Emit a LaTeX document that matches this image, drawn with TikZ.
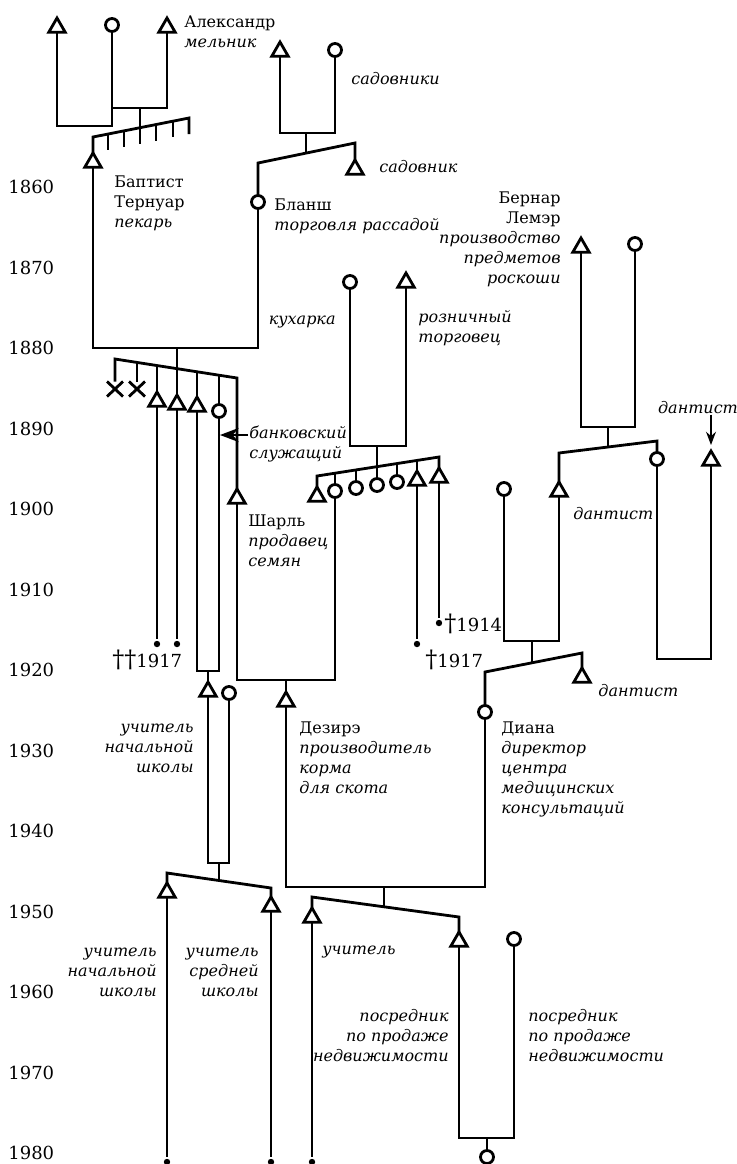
\documentclass[tikz,border=0pt]{standalone}
\usepackage{fontspec}
\setmainfont{DejaVu Serif}
\usetikzlibrary{
    arrows.meta,
    shapes.geometric,
    shapes.misc
}

\begin{document}
\begin{tikzpicture}[x=0.5pt, y=-0.5pt, line width=1.4pt,
    man/.style={draw, fill=white, regular polygon, regular polygon sides=3, minimum size=9.5pt, inner sep=0pt, outer sep=0pt, anchor=north},
    woman/.style={draw, fill=white, circle, minimum size=6.5pt, inner sep=0pt, outer sep=0pt},
    gone/.style={draw, cross out, minimum width=8pt, minimum height=7.5pt, inner sep=0pt, outer sep=0pt},
    dead/.style={circle, fill, minimum size=3.2pt, inner sep=0pt},
    lbl/.style={inner sep=0pt, font=\fontsize{8}{10}\selectfont, align=left, anchor=base west},
    lblr/.style={lbl, align=right, anchor=base east},
    job/.style={lbl, font=\fontsize{8}{10}\selectfont\itshape},
    jobr/.style={lblr, font=\fontsize{8}{10}\selectfont\itshape},
    yr/.style={inner sep=0pt, font=\fontsize{9}{10}\selectfont, anchor=west}]
    \useasboundingbox (0,0) rectangle (736,1164);
    % years
    \foreach \yy in {1860,1870,...,1980}
        \node[yr] (y\yy) at (7,{187+(\yy-1860)*8.05}) {\yy};

    % millers
    \node[man] (alf) at (57,18) {};
    \node[woman] (alm) at (112,25) {};
    \node[man] (ale) at (167,18) {};
    \node[lbl] (alet) at (183,47) {Александр\\\textit{мельник}};
    \coordinate (u1) at (112,126);
    \coordinate (u2) at (112,108);
    \coordinate (d1) at (140,108);
    \draw (alf) |- (u1) -- (alm);
    \draw (ale) |- (u2);
    \node[man] (bap) at (93,153) {};
    \node[lbl] (bapt) at (113,227) {Баптист\\Тернуар\\\textit{пекарь}};
    \coordinate (s1a) at (93,137);
    \coordinate (s1b) at (189,118);
    \draw (bap) -- (s1a) -- (s1b) -- ++(0,16);
    \draw (d1) -- ++(0,36);
    \foreach \x/\y in {108/134, 124/130.9, 156/124.5, 173/121.2}
        \draw (\x,\y) -- ++(0,16);

    % gardeners
    \node[man] (gaf) at (280,42) {};
    \node[woman] (gam) at (335,50) {};
    \node[job] (gamt) at (350,84) {садовники};
    \coordinate (u3) at (335,133);
    \coordinate (d3) at (306,133);
    \coordinate (d3b) at (306,153);
    \draw (gaf) |- (u3) -- (gam);
    \draw (d3) -- (d3b);
    \node[man] (gas) at (355,160) {};
    \node[job] (gast) at (378,172) {садовник};
    \node[woman] (bla) at (258,202) {};
    \node[lbl] (blat) at (273,230) {Бланш\\\textit{торговля рассадой}};
    \coordinate (s3a) at (258,163);
    \coordinate (s3b) at (355,143);
    \draw (bla) -- (s3a) -- (s3b) -- (gas);

    % Baptist + Blanche
    \coordinate (u4) at (258,348);
    \coordinate (d4) at (177,348);
    \draw (bap) |- (u4) -- (bla);
    \node[gone] (x1) at (115,389) {};
    \node[gone] (x2) at (137,389) {};
    \node[man] (b1) at (157,392) {};
    \node[man] (b2) at (177,395) {};
    \node[man] (b3) at (197,397) {};
    \node[woman] (b4) at (219,411) {};
    \node[man] (cha) at (237,489) {};
    \coordinate (s4a) at (115,359);
    \coordinate (s4b) at (237,378);
    \draw (x1) -- (s4a) -- (s4b) -- (cha);
    \draw (d4) -- (b2);
    \draw (x2) -- (137,362.4);
    \draw (b1) -- (157,365.5);
    \draw (b3) -- (197,371.7);
    \draw (b4) -- (219,375.1);
    \node[dead] (b1d) at (157,644) {};
    \node[dead] (b2d) at (177,644) {};
    \draw (b1) -- (b1d);
    \draw (b2) -- (b2d);
    \node[lbl] (b12t) at (111,667) {{\fontsize{12}{12}\selectfont ††}\fontsize{9}{10}\selectfont 1917};
    \node[job] (bank) at (248,458) {банковский\\служащий};
    \coordinate (bankp) at (220,435);
    \draw[-{Stealth}] (bank.west |- bankp) -- (bankp);
    \node[lbl] (chat) at (247,566) {Шарль\\\textit{продавец}\\\textit{семян}};

    % cook + retailer
    \node[woman] (coo) at (350,282) {};
    \node[jobr] (coot) at (337,324) {кухарка};
    \node[man] (ret) at (406,273) {};
    \node[job] (rett) at (417,342) {розничный\\торговец};
    \coordinate (u6) at (406,446);
    \coordinate (d6) at (377,446);
    \draw (coo) |- (u6) -- (ret);
    \node[man] (c1) at (317,487) {};
    \node[woman] (c2) at (335,491) {};
    \node[woman] (c3) at (356,488) {};
    \node[woman] (c4) at (377,485) {};
    \node[woman] (c5) at (397,482) {};
    \node[man] (c6) at (417,471) {};
    \node[man] (c7) at (439,468) {};
    \coordinate (s6a) at (317,476);
    \coordinate (s6b) at (439,457);
    \draw (c1) -- (s6a) -- (s6b) -- (c7);
    \draw (d6) -- (c4);
    \draw (c2) -- (335,473.2);
    \draw (c3) -- (356,469.9);
    \draw (c5) -- (397,463.6);
    \draw (c6) -- (417,460.5);
    \node[dead] (c6d) at (417,644) {};
    \node[dead] (c7d) at (439,623) {};
    \draw (c6) -- (c6d);
    \draw (c7) -- (c7d);
    \node[lbl] (c6t) at (424,667) {{\fontsize{12}{12}\selectfont †}\fontsize{9}{10}\selectfont 1917};
    \node[lbl] (c7t) at (443,631) {{\fontsize{12}{12}\selectfont †}\fontsize{9}{10}\selectfont 1914};

    % Charles + wife
    \coordinate (u7) at (335,680);
    \coordinate (d7) at (286,680);
    \draw (cha) |- (u7) -- (c2);
    \node[man] (des) at (286,692) {};
    \draw (d7) -- (des);
    \node[lbl] (dest) at (298,793) {Дезирэ\\\textit{производитель}\\\textit{корма}\\\textit{для скота}};

    % teacher + wife
    \coordinate (u5) at (219,671);
    \coordinate (d5) at (208,671);
    \draw (b3) |- (u5) -- (b4);
    \node[man] (tea) at (208,682) {};
    \node[woman] (tew) at (229,693) {};
    \draw (d5) -- (tea);
    \node[jobr] (teat) at (195,772) {учитель\\начальной\\школы};
    \coordinate (u13) at (229,863);
    \coordinate (d13) at (219,863);
    \draw (tea) |- (u13) -- (tew);
    \node[man] (h1) at (167,883) {};
    \node[man] (h2) at (271,897) {};
    \coordinate (s13a) at (167,873);
    \coordinate (s13b) at (271,888);
    \draw (h1) -- (s13a) -- (s13b) -- (h2);
    \draw (d13) -- (219,880.5);
    \node[dead] (h1d) at (167,1162) {};
    \node[dead] (h2d) at (271,1162) {};
    \draw (h1) -- (h1d);
    \draw (h2) -- (h2d);
    \node[jobr] (h1t) at (158,996) {учитель\\начальной\\школы};
    \node[jobr] (h2t) at (260,996) {учитель\\средней\\школы};

    % Bernard Lemaire
    \node[man] (ber) at (581,238) {};
    \node[woman] (bew) at (635,244) {};
    \node[lblr] (bert) at (562,283) {Бернар\\Лемэр\\\textit{производство}\\\textit{предметов}\\\textit{роскоши}};
    \coordinate (u8) at (635,427);
    \coordinate (d8) at (608,427);
    \coordinate (d8b) at (608,447);
    \draw (ber) |- (u8) -- (bew);
    \draw (d8) -- (d8b);
    \node[man] (den) at (559,482) {};
    \node[job] (dent) at (572,519) {дантист};
    \node[woman] (bed) at (657,459) {};
    \coordinate (s8a) at (559,453);
    \coordinate (s8b) at (657,441);
    \draw (den) -- (s8a) -- (s8b) -- (bed);
    \node[man] (hus) at (711,451) {};
    \node[job, anchor=base] (hust) at (698,413) {дантист};
    \coordinate (u9) at (711,659);
    \draw (bed) |- (u9) -- (hus);
    \draw[-{Stealth}, line width=0.8pt, shorten >=3pt] (hust.south -| hus) -- (hus);

    % Diana's parents
    \node[woman] (dim) at (504,489) {};
    \coordinate (u10) at (559,641);
    \coordinate (d10) at (532,641);
    \coordinate (d10b) at (532,662.8);
    \draw (dim) |- (u10) -- (den);
    \draw (d10) -- (d10b);
    \node[man] (dib) at (582,668) {};
    \node[job] (dibt) at (597,696) {дантист};
    \node[woman] (dia) at (485,712) {};
    \node[lbl] (diat) at (500,813) {Диана\\\textit{директор}\\\textit{центра}\\\textit{медицинских}\\\textit{консультаций}};
    \coordinate (s10a) at (485,672);
    \coordinate (s10b) at (582,653);
    \draw (dia) -- (s10a) -- (s10b) -- (dib);

    % Desire + Diana
    \coordinate (u11) at (485,887);
    \coordinate (d11) at (384,887);
    \draw (des) |- (u11) -- (dia);
    \node[man] (g1) at (312,908) {};
    \node[man] (g2) at (459,932) {};
    \coordinate (s11a) at (312,897);
    \coordinate (s11b) at (459,917);
    \draw (g1) -- (s11a) -- (s11b) -- (g2);
    \draw (d11) -- (384,906.8);
    \node[dead] (g1d) at (312,1162) {};
    \draw (g1) -- (g1d);
    \node[job] (g1t) at (321,954) {учитель};
    \node[jobr] (g2t) at (450,1061) {посредник\\по продаже\\недвижимости};
    \node[woman] (g2w) at (514,939) {};
    \node[job] (g2wt) at (527,1061) {посредник\\по продаже\\недвижимости};
    \coordinate (u12) at (514,1138);
    \coordinate (d12) at (487,1138);
    \draw (g2) |- (u12) -- (g2w);
    \node[woman] (g3) at (487,1157) {};
    \draw (d12) -- (g3);
\end{tikzpicture}
\end{document}
